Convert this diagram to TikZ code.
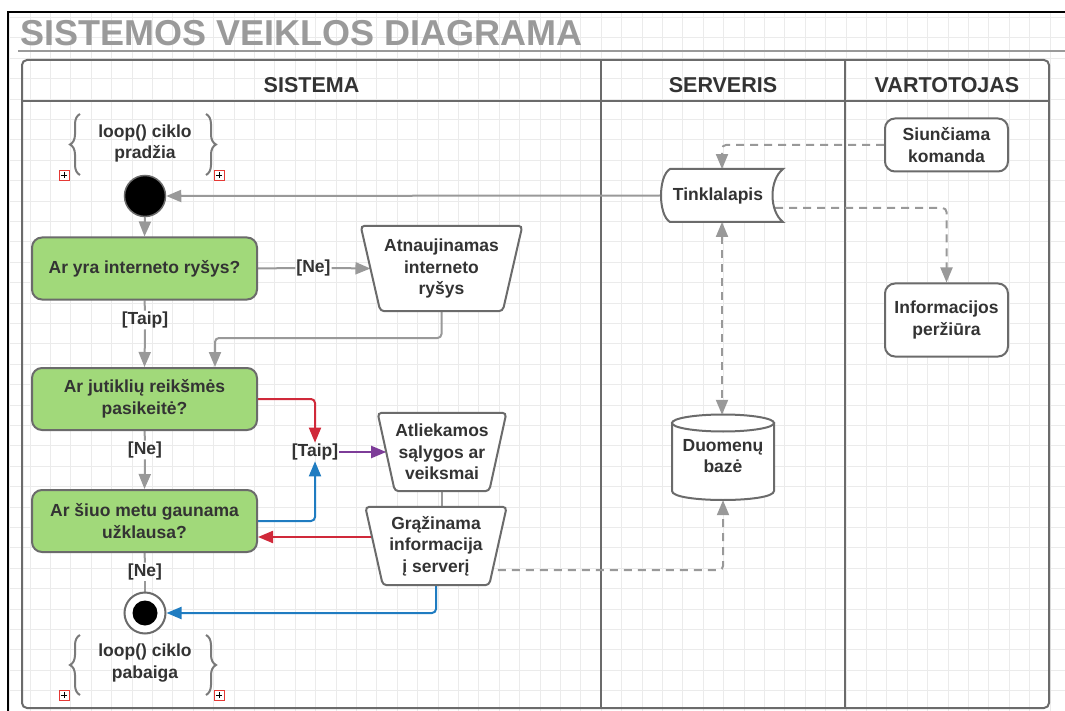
\documentclass[tikz,border=0pt]{standalone}
\usepackage{fontspec}
\setmainfont{Liberation Sans}
\usetikzlibrary{arrows.meta,decorations.pathreplacing,calc}
\definecolor{txt}{HTML}{333333}
\definecolor{bord}{HTML}{6B6B6B}
\definecolor{conn}{HTML}{999999}
\definecolor{gridc}{HTML}{EBEBEB}
\definecolor{dgreen}{HTML}{A1D97A}
\definecolor{cred}{HTML}{D0293A}
\definecolor{cblue}{HTML}{1F7CC1}
\definecolor{cpurple}{HTML}{7D3C98}
\definecolor{titlec}{HTML}{9A9A9A}
\definecolor{iconred}{HTML}{E53935}
\pgfdeclarelayer{gridlayer}
\pgfdeclarelayer{connlayer}
\pgfdeclarelayer{shapelayer}
\pgfsetlayers{gridlayer,connlayer,shapelayer,main}
\tikzset{
  lbl/.style={font=\fontsize{17.5}{21.5}\selectfont\bfseries, text=txt, align=center, inner sep=1pt},
  decision/.style={lbl, draw=bord, line width=2pt, fill=dgreen, rounded corners=10pt, minimum width=225pt, minimum height=62pt},
  act/.style={lbl, draw=bord, line width=2pt, fill=white, rounded corners=10pt, minimum width=123pt},
  shapeline/.style={draw=bord, line width=2pt, fill=white},
  header/.style={font=\fontsize{21.5}{24}\selectfont\bfseries, text=txt},
  conn/.style={draw=conn, line width=2pt, rounded corners=4pt},
  arr/.style={conn, -{Triangle[length=15pt,width=12pt]}},
  dsh/.style={conn, dash pattern=on 8pt off 6pt},
  bracest/.style={draw=bord!90, line width=2pt, decorate, decoration={brace, amplitude=10pt}},
}
\newcommand\drawtrap[2]{%
  \begin{pgfonlayer}{shapelayer}
    \draw[shapeline, rounded corners=4pt] (#1.north) -- ($(#1.north east)+(#2,0)$) -- ($(#1.south east)+(-#2,0)$) -- ($(#1.south west)+(#2,0)$) -- ($(#1.north west)+(-#2,0)$) -- cycle;
  \end{pgfonlayer}}
\newcommand\plusicon[1]{%
  \draw[iconred, line width=0.9pt, fill=white] ($#1+(-5,-5)$) rectangle ($#1+(5,5)$);
  \draw[black, line width=0.8pt] ($#1+(-3.2,0)$) -- ($#1+(3.2,0)$) ($#1+(0,-3.2)$) -- ($#1+(0,3.2)$);}
\begin{document}
\begin{tikzpicture}[x=1pt,y=-1pt]
\useasboundingbox (0,0) rectangle (1065,711);
\begin{pgfonlayer}{gridlayer}
  \fill[white] (0,0) rectangle (1065,711);
  \foreach \i in {0,...,51} \draw[gridc, line width=0.8pt] ({9.6+20.4*\i},12) -- ({9.6+20.4*\i},711);
  \foreach \j in {0,...,33} \draw[gridc, line width=0.8pt] (8,{17.4+20.4*\j}) -- (1065,{17.4+20.4*\j});
  \draw[black, line width=2pt] (8,711) -- (8,12) -- (1065,12);
  \draw[titlec, line width=1.5pt] (18,51) -- (1065,51);
  \draw[bord, line width=2pt, rounded corners=5pt] (22,60) rectangle (1049,708);
  \draw[bord, line width=2pt] (22,101) -- (1049,101);
  \draw[bord, line width=2pt] (601,60) -- (601,708);
  \draw[bord, line width=2pt] (845,60) -- (845,708);
\end{pgfonlayer}

% title and headers
\node[anchor=base west, inner sep=0, font=\fontsize{36}{40}\selectfont\bfseries, text=titlec] (title) at (20.5,45.5) {SISTEMOS VEIKLOS DIAGRAMA};
\node[header] (h1) at (311.5,85) {SISTEMA};
\node[header] (h2) at (723,85) {SERVERIS};
\node[header] (h3) at (947,85) {VARTOTOJAS};

% loop annotations
\node[lbl] (loopA) at (145,143.5) {loop() ciklo\\pradžia};
\draw[bracest] (80,175) -- (80,114);
\draw[bracest] (206,114) -- (206,175);
\plusicon{(64,175)}
\plusicon{(219,175)}
\node[lbl] (loopB) at (145,663) {loop() ciklo\\pabaiga};
\draw[bracest] (80,695) -- (80,635);
\draw[bracest] (206,635) -- (206,695);
\plusicon{(64,695)}
\plusicon{(219,695)}

% start / end
\node[circle, fill=black, draw=bord, line width=1.5pt, minimum size=41pt, inner sep=0] (start) at (145,196) {};
\node[circle, fill=white, draw=bord, line width=2pt, minimum size=41pt, inner sep=0] (end) at (145,613) {};
\fill[black] (end.center) circle[radius=12.5];

% decisions
\node[decision] (d1) at (144.5,268.5) {Ar yra interneto ryšys?};
\node[decision] (d2) at (144.5,399) {Ar jutiklių reikšmės\\pasikeitė?};
\node[decision] (d3) at (144.5,521) {Ar šiuo metu gaunama\\užklausa?};

% trapezoids
\node[lbl, minimum width=141.7pt, minimum height=85pt] (atn) at (441.5,268.5) {Atnaujinamas\\interneto\\ryšys};
\drawtrap{atn}{9.8}
\node[lbl, minimum width=111.2pt, minimum height=78pt] (atl) at (442,452) {Atliekamos\\sąlygos ar\\veiksmai};
\drawtrap{atl}{8.6}
\node[lbl, minimum width=123.5pt, minimum height=78pt] (gr) at (436,546) {Grąžinama\\informacija\\į serverį};
\drawtrap{gr}{8.75}

% labels
\node[lbl] (ne1) at (313.5,268) {[Ne]};
\node[lbl] (taip1) at (145,320) {[Taip]};
\node[lbl] (ne2) at (145,450) {[Ne]};
\node[lbl] (taip2) at (315,452) {[Taip]};
\node[lbl] (ne3) at (145,572) {[Ne]};

% server lane
\node[lbl, minimum width=122pt, minimum height=52.5pt] (tk) at (722,195.5) {};
\node[lbl] (tktext) at (718,195.5) {Tinklalapis};
\begin{pgfonlayer}{shapelayer}
  \draw[shapeline] (670,169) -- (783,169) .. controls (769,180) and (769,211) .. (783,222) -- (670,222) .. controls (658,215) and (658,176) .. (670,169) -- cycle;
\end{pgfonlayer}
\node[lbl, minimum width=102pt, minimum height=85pt] (db) at (723,457.5) {};
\node[lbl] (dbtext) at (723,456) {Duomenų\\bazė};
\begin{pgfonlayer}{shapelayer}
  \draw[shapeline] (672,423) -- (672,491) .. controls (672,503) and (774,503) .. (774,491) -- (774,423) -- cycle;
  \draw[shapeline] (723,423) ellipse [x radius=51, y radius=8.5];
\end{pgfonlayer}

% user lane
\node[act, minimum height=53pt] (sk) at (946.5,145) {Siunčiama\\komanda};
\node[act, minimum height=73pt] (inf) at (946.5,320) {Informacijos\\peržiūra};

\coordinate (c1) at (215,338);
\coordinate (grl) at ([yshift=9pt]gr.west);
\coordinate (grr) at ([yshift=-24pt]gr.east);
\coordinate (tkr) at (775,208);

\begin{pgfonlayer}{connlayer}
  \draw[arr] (tk.west) -- (start.east);
  \draw[arr] (start.south) -- (d1.north);
  \draw[conn] (d1.east) -- (ne1.west);
  \draw[arr] (ne1.east) -- (atn.west);
  \draw[conn] (d1.south) -- (taip1.north);
  \draw[arr] (taip1.south) -- (d2.north);
  \draw[arr] (atn.south) |- (c1) -- (c1 |- d2.north);
  \draw[conn] (d2.south) -- (ne2.north);
  \draw[arr] (ne2.south) -- (d3.north);
  \draw[arr, draw=cred] (d2.east) -| (taip2.north);
  \draw[arr, draw=cblue] (d3.east) -| (taip2.south);
  \draw[arr, draw=cpurple] (taip2.east) -- (atl.west);
  \draw[conn] (atl.south) -- (atl.south |- gr.north);
  \draw[arr, draw=cred] (grl) -- (grl -| d3.east);
  \draw[arr, draw=cblue] (gr.south) |- (end.east);
  \draw[conn] (d3.south) -- (ne3.north);
  \draw[conn] (ne3.south) -- (end.north);
  \draw[dsh, -{Triangle[length=15pt,width=12pt]}] (grr) -| (db.south);
  \draw[dsh, -{Triangle[length=15pt,width=12pt]}] (sk.west) -| (tk.north);
  \draw[dsh, -{Triangle[length=15pt,width=12pt]}] (tkr) -| (inf.north);
  \draw[dsh, {Triangle[length=15pt,width=12pt]}-{Triangle[length=15pt,width=12pt]}] (tk.south) -- (tk.south |- db.north);
\end{pgfonlayer}
\end{tikzpicture}
\end{document}
